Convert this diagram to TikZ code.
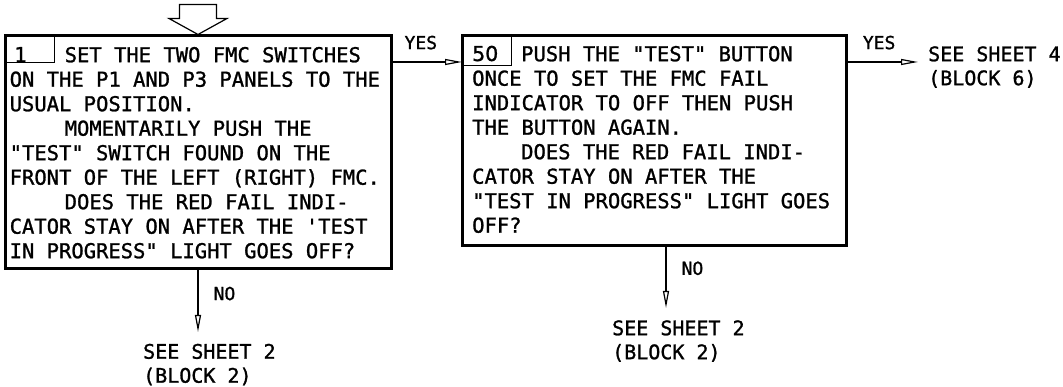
\documentclass[tikz,border=0pt]{standalone}
\usepackage{fontspec}
\usepackage{tikz}
\usetikzlibrary{arrows.meta}
\newfontfamily\plotfont{DejaVu Sans Mono}[FakeBold=1.2]
\newfontfamily\digitfont{DejaVu Sans}[FakeBold=1.2]

\begin{document}
\begin{tikzpicture}[x=1pt, y=1pt, >={Triangle[open, length=17pt, width=6pt]},
  box/.style={draw, line width=3pt, anchor=north west, inner sep=0pt, outer sep=0pt},
  cell/.style={draw, line width=1pt},
  num/.style={anchor=base west, inner sep=0pt, font=\plotfont\fontsize{20.5}{24.5}\selectfont},
  body/.style={anchor=north west, inner sep=0pt, align=left, font=\plotfont\fontsize{20.5}{24.5}\selectfont},
  dest/.style={anchor=north west, inner sep=0pt, align=left, font=\plotfont\fontsize{20}{24}\selectfont},
  lbl/.style={inner sep=0pt, font=\plotfont\fontsize{18}{20}\selectfont},
  flow/.style={->, line width=1.2pt},
  entry/.style={line width=1.2pt, line join=miter}]
\useasboundingbox (0,0) rectangle (1063,387);
% boxes
\node[box, minimum width=386pt, minimum height=233pt] (b1) at (5,351) {};
\node[box, minimum width=384pt, minimum height=210pt] (b2) at (462,351) {};
\draw[cell] ([yshift=-27pt]b1.north west) -| ([xshift=49pt]b1.north west);
\draw[cell] ([yshift=-30pt]b2.north west) -| ([xshift=49pt]b2.north west);
\node[num] (n1) at (14,325) {1};
\node[num, font=\digitfont\fontsize{20.5}{24.5}\selectfont] (n2) at (472,326) {50};
% texts
\node[body] (t1) at (9.5,341) {\rule{0pt}{16pt}\hspace*{55pt}SET THE TWO FMC SWITCHES\\
ON THE P1 AND P3 PANELS TO THE\\
USUAL POSITION.\\
\hspace*{55pt}MOMENTARILY PUSH THE\\
"TEST" SWITCH FOUND ON THE\\
FRONT OF THE LEFT (RIGHT) FMC.\\
\hspace*{55pt}DOES THE RED FAIL INDI-\\
CATOR STAY ON AFTER THE \textquotesingle TEST\\
IN PROGRESS" LIGHT GOES OFF?};
\node[body] (t2) at (472,342) {\rule{0pt}{16pt}\hspace*{49pt}PUSH THE "TEST" BUTTON\\
ONCE TO SET THE FMC FAIL\\
INDICATOR TO OFF THEN PUSH\\
THE BUTTON AGAIN.\\
\hspace*{49pt}DOES THE RED FAIL INDI-\\
CATOR STAY ON AFTER THE\\
"TEST IN PROGRESS" LIGHT GOES\\
OFF?};
% entry arrow
\draw[entry] ([yshift=1.5pt]b1.north) -- ++(-29,16) -- ++(10.5,0) -- ++(0,14)
  -- ++(37,0) -- ++(0,-14) -- ++(10.5,0) -- cycle;
% connectors
\coordinate (s4in) at (918,325);
\coordinate (no1end) at ([yshift=-63pt]b1.south);
\coordinate (no2end) at ([xshift=12pt, yshift=-62pt]b2.south);
\draw[flow] ([yshift=-26pt]b1.north east) -- node[lbl, above=12pt, pos=0.42] (yes1) {YES} ([yshift=-26pt]b2.north west);
\draw[flow] ([yshift=-26pt]b2.north east) -- node[lbl, above=12pt, pos=0.46] (yes2) {YES} (s4in);
\draw[flow] (b1.south) -- node[lbl, right=15pt, pos=0.39] (no1) {NO} (no1end);
\draw[flow] ([xshift=12pt]b2.south) -- node[lbl, right=15pt, pos=0.36] (no2) {NO} (no2end);
% destinations
\node[dest] (s4) at (928,342) {\rule{0pt}{16pt}SEE SHEET 4\\(BLOCK 6)};
\node[dest] (s2a) at (143,44.5) {\rule{0pt}{16pt}SEE SHEET 2\\(BLOCK 2)};
\node[dest] (s2b) at (612,68) {\rule{0pt}{16pt}SEE SHEET 2\\(BLOCK 2)};
\end{tikzpicture}
\end{document}
